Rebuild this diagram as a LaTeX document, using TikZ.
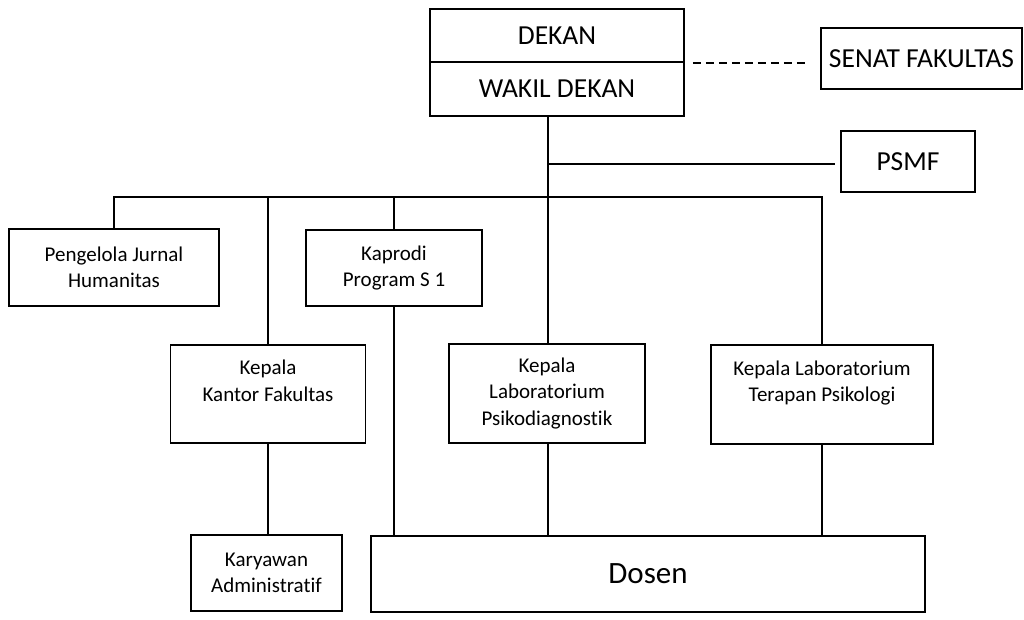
\documentclass[tikz,border=0pt]{standalone}
\usepackage{fontspec}
\setmainfont[Ligatures=NoCommon]{Carlito}
\tikzset{
  box/.style={draw, line width=1.8pt, rectangle, inner sep=0pt, align=center, font=\fontsize{21}{26.5}\selectfont},
  bigbox/.style={box, font=\fontsize{27.5}{32}\selectfont},
  conn/.style={line width=1.8pt},
}
\begin{document}
\begin{tikzpicture}[x=1pt,y=-1pt]
\useasboundingbox (0,0) rectangle (1024,619);
% top
\node[bigbox, minimum width=254pt, minimum height=53pt] (dekan) at (557,35.5) {DEKAN};
\node[bigbox, minimum width=254pt, minimum height=54pt] (wakil) at (557,89) {WAKIL DEKAN};
\node[bigbox, minimum width=201pt, minimum height=61pt] (senat) at (921.5,58.5) {SENAT FAKULTAS};
\node[bigbox, minimum width=134pt, minimum height=61pt] (psmf) at (908,161.5) {PSMF};
% second level
\node[box, minimum width=210pt, minimum height=77pt] (peng) at (114,267.5) {Pengelola Jurnal\\Humanitas};
\node[box, minimum width=176pt, minimum height=76pt] (kaprodi) at (394,268) {Kaprodi\\Program S 1};
\node[box, minimum width=195pt, minimum height=98pt] (kantor) at (268,394) {Kepala\\Kantor Fakultas\\\mbox{}};
\node[box, minimum width=196pt, minimum height=99pt] (psiko) at (547,393.5) {Kepala\\Laboratorium\\Psikodiagnostik};
\node[box, minimum width=222pt, minimum height=99pt] (terapan) at (822,394.5) {Kepala Laboratorium\\Terapan Psikologi\\\mbox{}};
% bottom
\node[box, minimum width=151pt, minimum height=76pt] (karyawan) at (266.5,573) {Karyawan\\Administratif};
\node[box, minimum width=554pt, minimum height=76pt, font=\fontsize{31}{36}\selectfont] (dosen) at (648,574) {Dosen};
% connectors
\coordinate (m) at (548,197);
\coordinate (p) at (548,164);
\draw[conn, line width=1.5pt, dash pattern=on 8pt off 5pt, shorten <=8pt, shorten >=13pt] (dekan.south east) -- (dekan.south east -| senat.west);
\draw[conn] (wakil.south -| m) -- (psiko.north -| m);
\draw[conn, shorten >=5pt] (p) -- (p -| psmf.west);
\draw[conn] (peng.north) -- (peng.north |- m) -- (terapan.north |- m) -- (terapan.north);
\draw[conn] (kantor.north |- m) -- (kantor.north);
\draw[conn] (kaprodi.north |- m) -- (kaprodi.north);
\draw[conn] (kantor.south) -- (kantor.south |- karyawan.north);
\draw[conn] (kaprodi.south) -- (kaprodi.south |- dosen.north);
\draw[conn] (psiko.south -| m) -- (dosen.north -| m);
\draw[conn] (terapan.south) -- (terapan.south |- dosen.north);
\end{tikzpicture}
\end{document}
